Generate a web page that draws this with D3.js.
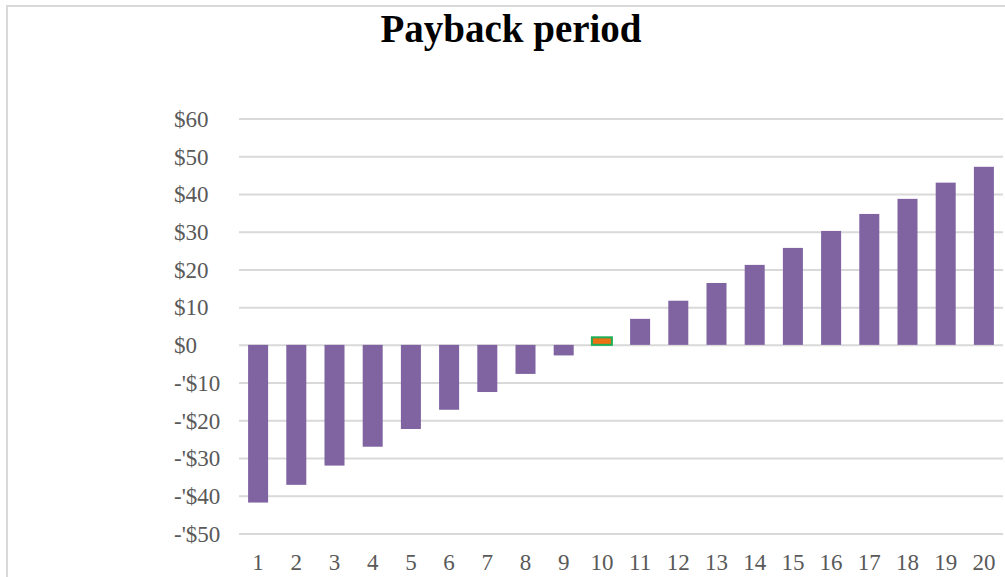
<!DOCTYPE html>
<html>
<head>
<meta charset="utf-8">
<script src="https://cdn.jsdelivr.net/npm/d3@7"></script>
<style>
  body { margin: 0; background: #fff; }
  svg { display: block; }
  .tick text { font-family: "Liberation Serif", serif; font-size: 23px; fill: #595959; }
</style>
</head>
<body>
<div id="chart"></div>
<script>
// payback period data
var years = [1, 2, 3, 4, 5, 6, 7, 8, 9, 10, 11, 12, 13, 14, 15, 16, 17, 18, 19, 20];
var cumulative = [-41.8, -37.1, -32.0, -27.0, -22.3, -17.2, -12.5, -7.7, -2.8, 2.0,
                  6.9, 11.7, 16.4, 21.2, 25.7, 30.2, 34.7, 38.7, 43.0, 47.2];
var yTicks = [-50, -40, -30, -20, -10, 0, 10, 20, 30, 40, 50, 60];
var paybackYear = 10;

var W = 1005, H = 577;
var plot = { left: 239, right: 1003, top: 118.5, bottom: 533.5 };

var svg = d3.select('#chart').append('svg')
    .attr('width', W)
    .attr('height', H);

svg.append('rect')
    .attr('width', W).attr('height', H)
    .attr('fill', '#fff');

// chart area border (top + left visible)
svg.append('path')
    .attr('d', 'M7,' + H + 'V6H' + W)
    .attr('fill', 'none')
    .attr('stroke', '#d9d9d9')
    .attr('stroke-width', 2);

svg.append('text')
    .attr('x', 511)
    .attr('y', 42)
    .attr('text-anchor', 'middle')
    .style('font-family', '"Liberation Serif", serif')
    .style('font-weight', 'bold')
    .style('font-size', '39px')
    .style('fill', '#000')
    .text('Payback period');

var x = d3.scaleBand()
    .domain(years)
    .range([plot.left, plot.right])
    .paddingInner(0.476)
    .paddingOuter(0.238);

var y = d3.scaleLinear()
    .domain([-50, 60])
    .range([plot.bottom, plot.top]);

function money(v) {
    return v < 0 ? "-'$" + Math.abs(v) : '$' + v;
}

var yAxis = svg.append('g')
    .attr('transform', 'translate(' + plot.left + ',0)')
    .call(d3.axisLeft(y)
        .tickValues(yTicks)
        .tickFormat(money)
        .tickSizeInner(-(plot.right - plot.left))
        .tickSizeOuter(0));

yAxis.select('.domain').remove();
yAxis.selectAll('.tick line')
    .attr('stroke', '#d9d9d9')
    .attr('stroke-width', 2);
yAxis.selectAll('.tick text')
    .attr('text-anchor', 'start')
    .attr('x', 174 - plot.left)
    .attr('dy', '0.34em');

var xAxis = svg.append('g')
    .attr('transform', 'translate(0,' + plot.bottom + ')')
    .call(d3.axisBottom(x).tickSize(0));

xAxis.select('.domain').remove();
xAxis.selectAll('.tick text')
    .attr('y', 36.5)
    .attr('dy', 0);

svg.append('g')
    .selectAll('rect')
    .data(years.map(function (d, i) { return { year: d, value: cumulative[i] }; }))
    .enter()
    .append('rect')
    .attr('x', function (d) { return x(d.year); })
    .attr('width', x.bandwidth())
    .attr('y', function (d) { return y(Math.max(0, d.value)); })
    .attr('height', function (d) { return Math.abs(y(d.value) - y(0)); })
    .attr('fill', function (d) { return d.year === paybackYear ? '#ea7214' : '#8064a2'; })
    .attr('stroke', function (d) { return d.year === paybackYear ? '#1dae57' : 'none'; })
    .attr('stroke-width', 2);
</script>
</body>
</html>
